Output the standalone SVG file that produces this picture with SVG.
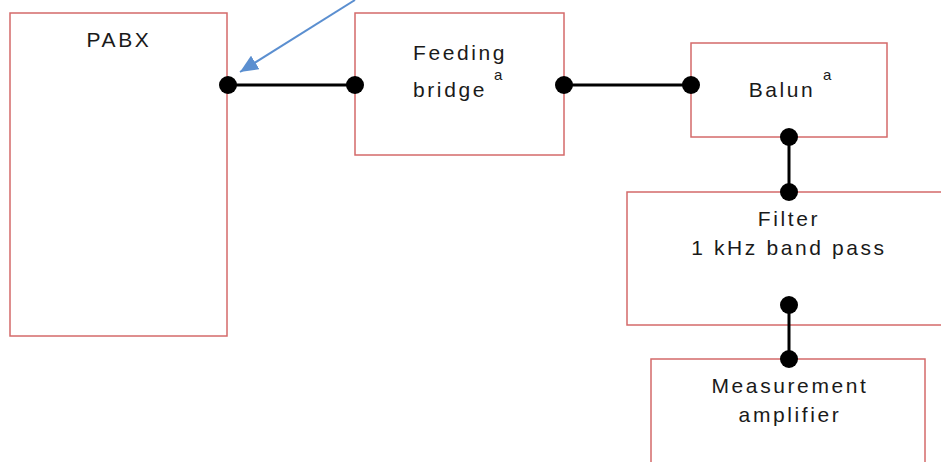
<svg xmlns="http://www.w3.org/2000/svg" width="941" height="462" viewBox="0 0 941 462">
<defs>
<style>
.box{fill:#fff;stroke:#d46a6a;stroke-width:1.5}
.t{font-family:"Liberation Sans",Arial,sans-serif;font-size:21px;fill:#1a1a1a;text-anchor:middle;letter-spacing:2.6px}
.sup{font-family:"Liberation Sans",Arial,sans-serif;font-size:15px;fill:#1a1a1a}
.wire{stroke:#000;stroke-width:3;fill:none}
.dot{fill:#000}
</style>
<marker id="ahb" markerWidth="20" markerHeight="16" refX="18" refY="8" orient="auto" markerUnits="userSpaceOnUse">
<path d="M0,0 L18,8 L0,16 z" fill="#5b8fd0"/>
</marker>
</defs>
<rect width="941" height="462" fill="#fff"/>
<g id="pabx">
<rect class="box" x="10" y="13" width="217" height="323"/>
<text class="t" x="119" y="47">PABX</text>
</g>
<g id="feeding-bridge">
<rect class="box" x="355" y="13" width="209" height="142"/>
<text class="t" x="460" y="60">Feeding</text>
<text class="t" x="450" y="97">bridge</text>
<text class="sup" x="494" y="80">a</text>
</g>
<g id="balun">
<rect class="box" x="691" y="43" width="196" height="94"/>
<text class="t" x="782" y="97">Balun</text>
<text class="sup" x="823" y="80">a</text>
</g>
<g id="filter">
<rect class="box" x="627" y="192" width="320" height="133"/>
<text class="t" x="789" y="226">Filter</text>
<text class="t" x="789" y="255">1 kHz band pass</text>
</g>
<g id="amplifier">
<rect class="box" x="651" y="359" width="274" height="110"/>
<text class="t" x="790" y="393">Measurement</text>
<text class="t" x="790" y="422">amplifier</text>
</g>
<g id="connectors">
<line class="wire" x1="228" y1="85" x2="355" y2="85"/>
<line class="wire" x1="564" y1="85" x2="691" y2="85"/>
<line class="wire" x1="789" y1="137" x2="789" y2="192"/>
<line class="wire" x1="789" y1="305" x2="789" y2="359"/>
<line x1="355" y1="0" x2="240" y2="72" stroke="#5b8fd0" stroke-width="2" marker-end="url(#ahb)"/>
<circle class="dot" cx="228" cy="85" r="9"/>
<circle class="dot" cx="355" cy="85" r="9"/>
<circle class="dot" cx="564" cy="85" r="9"/>
<circle class="dot" cx="691" cy="85" r="9"/>
<circle class="dot" cx="789" cy="137" r="9"/>
<circle class="dot" cx="789" cy="192" r="9"/>
<circle class="dot" cx="789" cy="305" r="9"/>
<circle class="dot" cx="789" cy="359" r="9"/>
</g>
</svg>
